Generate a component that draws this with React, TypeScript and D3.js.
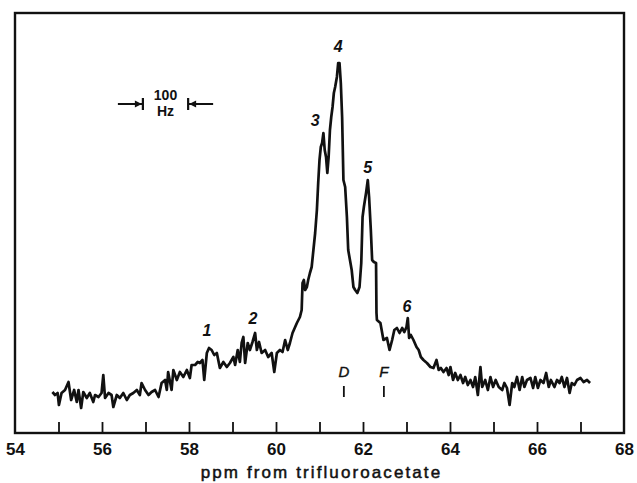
import { useEffect, useRef } from "react";
import * as d3 from "d3";

// chemical shift (ppm from trifluoroacetate)
const ppm = [
  54.86, 54.92, 54.98, 55.01, 55.07, 55.15, 55.23, 55.29, 55.36, 55.42, 55.46, 55.52, 55.57, 55.65,
  55.72, 55.8, 55.84, 55.92, 55.99, 56.03, 56.07, 56.15, 56.22, 56.26, 56.34, 56.41, 56.49, 56.57,
  56.64, 56.72, 56.8, 56.87, 56.91, 56.99, 57.07, 57.14, 57.22, 57.3, 57.37, 57.45, 57.49, 57.52,
  57.6, 57.64, 57.72, 57.79, 57.87, 57.95, 58.02, 58.06,
  58.14, 58.2, 58.25, 58.31, 58.35, 58.41, 58.46, 58.52, 58.58, 58.64, 58.71, 58.79, 58.87, 58.94,
  59.02, 59.06, 59.12, 59.17, 59.21, 59.25, 59.29, 59.35, 59.4, 59.46, 59.52, 59.56, 59.61, 59.67,
  59.75, 59.82, 59.9, 59.96, 60.02, 60.09, 60.15, 60.21, 60.27, 60.32,
  60.38, 60.44, 60.48, 60.55, 60.59, 60.61, 60.64, 60.67, 60.71, 60.74, 60.78, 60.82, 60.86, 60.9,
  60.94, 60.97, 61.0, 61.03, 61.06, 61.09, 61.12, 61.15, 61.18, 61.21, 61.24, 61.27, 61.3, 61.33,
  61.36, 61.4, 61.43, 61.46, 61.49, 61.52, 61.55, 61.59, 61.63, 61.66, 61.7, 61.74, 61.78, 61.82,
  61.87, 61.92, 61.96, 61.99, 62.02, 62.07, 62.11, 62.14, 62.18, 62.21, 62.25, 62.3, 62.31,
  62.32, 62.4, 62.47, 62.55, 62.61, 62.67, 62.72, 62.78, 62.84, 62.9, 62.95, 63.0, 63.03, 63.06,
  63.1, 63.16, 63.23, 63.28, 63.33, 63.39, 63.47, 63.55, 63.62, 63.69, 63.74, 63.79, 63.85, 63.92,
  63.97, 64.01, 64.07, 64.12, 64.18, 64.24, 64.3, 64.35, 64.41, 64.47, 64.53, 64.58, 64.64, 64.7,
  64.74, 64.81, 64.87, 64.93, 64.99, 65.05, 65.12, 65.2, 65.25, 65.31, 65.37, 65.43, 65.48, 65.54,
  65.6, 65.66, 65.71, 65.77, 65.85, 65.91, 65.96, 66.02, 66.08, 66.15, 66.21, 66.27, 66.32, 66.4,
  66.46, 66.52, 66.57, 66.63, 66.69, 66.75, 66.8, 66.86, 66.92, 67.0, 67.07, 67.15, 67.22,
];

// signal intensity, arbitrary units
const intensity = [
  41, 38, 40, 28, 40, 43, 51, 33, 43, 31, 43, 25, 41, 35,
  40, 31, 38, 36, 40, 58, 35, 40, 38, 26, 38, 35, 40, 33,
  38, 40, 43, 38, 50, 43, 38, 41, 43, 36, 50, 53, 43, 61,
  43, 63, 53, 61, 56, 63, 55, 68,
  68, 71, 70, 73, 53, 80, 85, 83, 78, 80, 65, 71, 66, 70,
  76, 68, 83, 71, 90, 96, 70, 90, 83, 91, 100, 83, 91, 80,
  83, 76, 80, 61, 80, 83, 81, 93, 83, 90,
  100, 106, 110, 116, 123, 150, 153, 143, 146, 153, 160, 166, 183, 200,
  223, 250, 273, 286, 290, 300, 283, 276, 260, 276, 303, 316, 326, 340,
  346, 356, 370, 370, 350, 316, 253, 246, 216, 183, 173, 163, 146, 143,
  140, 146, 170, 216, 226, 240, 253, 236, 203, 173, 171, 170, 120,
  113, 110, 93, 95, 83, 93, 103, 105, 100, 105, 101, 106, 115, 95,
  98, 93, 86, 83, 76, 73, 70, 66, 65, 73, 63, 65, 61, 65,
  58, 66, 53, 60, 53, 58, 50, 56, 48, 53, 46, 56, 38, 66,
  46, 53, 43, 56, 46, 53, 46, 43, 50, 45, 28, 50, 46, 56,
  43, 56, 46, 53, 55, 45, 56, 45, 53, 50, 60, 46, 53, 46,
  53, 50, 56, 46, 55, 40, 50, 48, 53, 55, 51, 53, 50,
];

const labelTicks = [54, 56, 58, 60, 62, 64, 66, 68];
const minorTicks = [55, 56, 57, 58, 59, 60, 61, 62, 63, 64, 65, 66, 67];

const peakNames = ["1", "2", "3", "4", "5", "6"];
const peakPpm = [58.41, 59.47, 60.9, 61.43, 62.11, 63.01];
const peakLevel = [97, 109, 307, 381, 260, 121];

const markNames = ["D", "F"];
const markPpm = [61.56, 62.48];

// 100 Hz scale bar, ends in ppm
const hzBar = [56.94, 57.98];

export default function App() {
  const ref = useRef<SVGSVGElement>(null);

  useEffect(() => {
    const left = 15;
    const right = 624;
    const top = 13;
    const bottom = 433;

    const svg = d3.select(ref.current);
    svg.selectAll("*").remove();

    const x = d3.scaleLinear().domain([54, 68]).range([left, right]);
    const y = d3.scaleLinear().domain([0, 420]).range([bottom, top]);

    const font = "'Liberation Sans', Arial, Helvetica, sans-serif";

    // frame
    svg
      .append("rect")
      .attr("x", left)
      .attr("y", top)
      .attr("width", right - left)
      .attr("height", bottom - top)
      .attr("fill", "none")
      .attr("stroke", "#111")
      .attr("stroke-width", 2.4);

    // inner ticks pointing up from the bottom edge
    const tickAxis = d3
      .axisTop(x)
      .tickValues(minorTicks)
      .tickSize(11)
      .tickFormat(() => "");
    const tg = svg.append("g").attr("transform", `translate(0,${bottom})`).call(tickAxis);
    tg.select(".domain").remove();
    tg.selectAll("line").attr("stroke", "#111").attr("stroke-width", 1.8);

    // tick labels
    const labelAxis = d3
      .axisBottom(x)
      .tickValues(labelTicks)
      .tickSize(0)
      .tickPadding(10)
      .tickFormat((d) => String(d));
    const lg = svg.append("g").attr("transform", `translate(0,${bottom})`).call(labelAxis);
    lg.select(".domain").remove();
    lg.selectAll("text")
      .attr("font-family", font)
      .attr("font-size", 17)
      .attr("font-weight", "bold")
      .attr("fill", "#111");

    // axis title
    svg
      .append("text")
      .attr("x", (left + right) / 2 + 2)
      .attr("y", 478)
      .attr("text-anchor", "middle")
      .attr("font-family", font)
      .attr("font-size", 17)
      .attr("letter-spacing", 2.1)
      .attr("fill", "#111")
      .attr("stroke", "#111")
      .attr("stroke-width", 0.5)
      .text("ppm from trifluoroacetate");

    // spectrum
    const line = d3
      .line<number>()
      .x((_, i) => x(ppm[i]))
      .y((d) => y(d))
      .curve(d3.curveLinear);

    svg
      .append("path")
      .datum(intensity)
      .attr("d", line)
      .attr("fill", "none")
      .attr("stroke", "#111")
      .attr("stroke-width", 2.7)
      .attr("stroke-linejoin", "round");

    // peak numbers
    svg
      .selectAll(".peak")
      .data(peakNames)
      .enter()
      .append("text")
      .attr("class", "peak")
      .attr("x", (_, i) => x(peakPpm[i]))
      .attr("y", (_, i) => y(peakLevel[i]))
      .attr("text-anchor", "middle")
      .attr("font-family", font)
      .attr("font-size", 16)
      .attr("font-style", "italic")
      .attr("font-weight", "bold")
      .attr("fill", "#111")
      .text((d) => d);

    // D / F markers
    const marks = svg
      .selectAll(".mark")
      .data(markNames)
      .enter()
      .append("g")
      .attr("class", "mark");
    marks
      .append("text")
      .attr("x", (_, i) => x(markPpm[i]))
      .attr("y", y(56))
      .attr("text-anchor", "middle")
      .attr("font-family", font)
      .attr("font-size", 15)
      .attr("font-style", "italic")
      .attr("fill", "#111")
      .attr("stroke", "#111")
      .attr("stroke-width", 0.4)
      .text((d) => d);
    marks
      .append("line")
      .attr("x1", (_, i) => x(markPpm[i]))
      .attr("x2", (_, i) => x(markPpm[i]))
      .attr("y1", y(47))
      .attr("y2", y(36))
      .attr("stroke", "#111")
      .attr("stroke-width", 1.8);

    // 100 Hz scale bar
    const hz = svg.append("g");
    const x0 = x(hzBar[0]);
    const x1 = x(hzBar[1]);
    const yb = 104;
    hz.append("line").attr("x1", x0 - 25).attr("x2", x0).attr("y1", yb).attr("y2", yb)
      .attr("stroke", "#111").attr("stroke-width", 2);
    hz.append("line").attr("x1", x1).attr("x2", x1 + 25).attr("y1", yb).attr("y2", yb)
      .attr("stroke", "#111").attr("stroke-width", 2);
    hz.append("line").attr("x1", x0).attr("x2", x0).attr("y1", yb - 6).attr("y2", yb + 6)
      .attr("stroke", "#111").attr("stroke-width", 2.2);
    hz.append("line").attr("x1", x1).attr("x2", x1).attr("y1", yb - 6).attr("y2", yb + 6)
      .attr("stroke", "#111").attr("stroke-width", 2.2);
    hz.append("path")
      .attr("d", `M${x0 - 1},${yb} L${x0 - 8},${yb - 3.5} L${x0 - 8},${yb + 3.5} Z`)
      .attr("fill", "#111");
    hz.append("path")
      .attr("d", `M${x1 + 1},${yb} L${x1 + 8},${yb - 3.5} L${x1 + 8},${yb + 3.5} Z`)
      .attr("fill", "#111");
    hz.append("text")
      .attr("x", (x0 + x1) / 2)
      .attr("y", 100)
      .attr("text-anchor", "middle")
      .attr("font-family", font)
      .attr("font-size", 14)
      .attr("font-weight", "bold")
      .attr("fill", "#111")
      .text("100");
    hz.append("text")
      .attr("x", (x0 + x1) / 2)
      .attr("y", 116)
      .attr("text-anchor", "middle")
      .attr("font-family", font)
      .attr("font-size", 14)
      .attr("font-weight", "bold")
      .attr("fill", "#111")
      .text("Hz");
  }, []);

  return (
    <svg
      ref={ref}
      width={637}
      height={483}
      style={{ position: "absolute", left: 0, top: 0, background: "#fff", display: "block" }}
    />
  );
}
